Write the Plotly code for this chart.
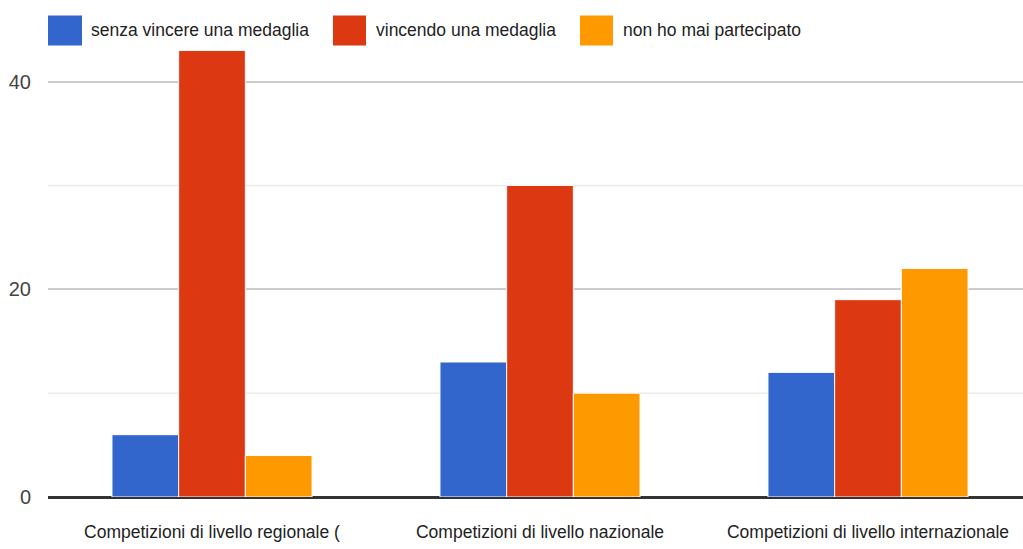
import plotly.graph_objects as go

categories = ["Competizioni di livello regionale (", "Competizioni di livello nazionale", "Competizioni di livello internazionale"]
series_names = ["senza vincere una medaglia", "vincendo una medaglia", "non ho mai partecipato"]
senza_vincere = [6, 13, 12]
vincendo = [43, 30, 19]
mai_partecipato = [4, 10, 22]
colors = ["#3366cc", "#dc3912", "#ff9900"]
y_ticks = [0, 20, 40]

FONT = "Liberation Sans, Arial, sans-serif"

fig = go.Figure()
for name, vals, col in zip(series_names, [senza_vincere, vincendo, mai_partecipato], colors):
    fig.add_trace(go.Bar(x=categories, y=vals, name=name, marker=dict(color=col, line=dict(color="white", width=1)),
                         showlegend=False))

# minor gridlines
for v in [10, 30]:
    fig.add_shape(type="line", xref="paper", yref="y", x0=0, x1=1, y0=v, y1=v,
                  line=dict(color="#ebebeb", width=1.5), layer="below")

W = 1023.0
L = 48.0
PW = W - L
TOP = 40.5
PH = 456.5
def px_to_paper(px):
    return (px - L) / PW

def py_to_paper(py):
    return 1 + (TOP - py) / PH

# manual legend
leg_sq = [(48, 82), (333, 366), (580, 613)]
leg_tx = [89, 374, 621]
for (x0, x1), tx, name, col in zip(leg_sq, leg_tx, series_names, colors):
    fig.add_shape(type="rect", xref="paper", yref="paper", x0=px_to_paper(x0), x1=px_to_paper(x1),
                  y0=py_to_paper(16), y1=py_to_paper(46),
                  fillcolor=col, line=dict(width=0))
    fig.add_annotation(xref="paper", yref="paper", x=px_to_paper(tx), y=py_to_paper(31),
                       text=name, showarrow=False, xanchor="left", yanchor="middle",
                       font=dict(family=FONT, size=17.5, color="#222222"))

# category slot width in the reference is ~328px; plot width 975px
span = PW / 328.0

fig.update_layout(
    width=1023, height=549,
    margin=dict(l=48, r=0, t=40, b=52),
    paper_bgcolor="white", plot_bgcolor="white",
    barmode="group", bargap=0.39, bargroupgap=0.0,
    font=dict(family=FONT, size=17, color="#222222"),
    xaxis=dict(showgrid=False, tickfont=dict(size=17.5, color="#222222"), ticks="", showline=False,
               tickangle=0, automargin=False, ticklabelstandoff=22, range=[-0.5, -0.5 + span]),
    yaxis=dict(range=[0, 44], tickvals=y_ticks, showgrid=True, gridcolor="#cccccc", gridwidth=2,
               zeroline=True, zerolinecolor="#333333", zerolinewidth=3, automargin=False,
               tickfont=dict(size=20, color="#444444"), ticks="", ticklabelstandoff=16),
)

fig.write_html("out.html")
